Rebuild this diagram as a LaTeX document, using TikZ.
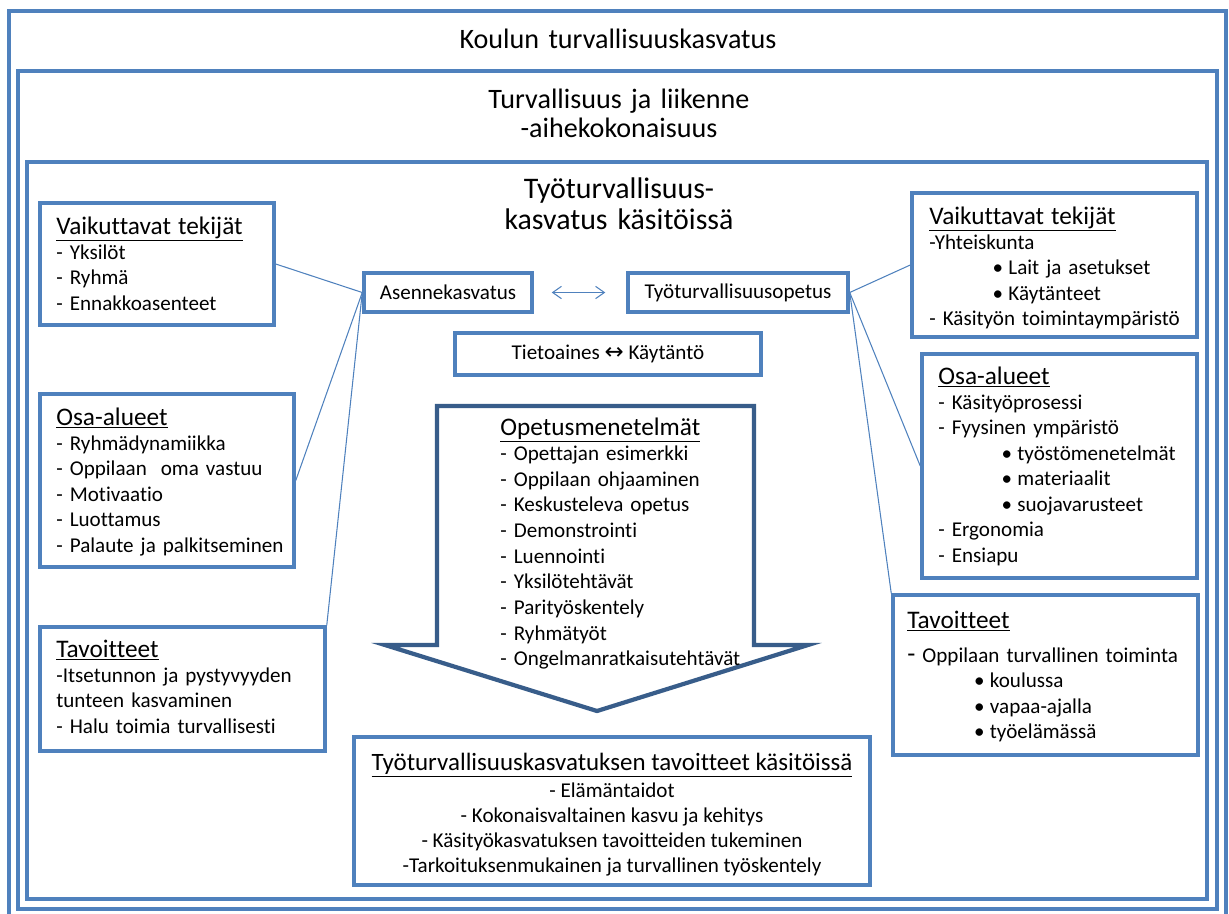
\documentclass[tikz,border=0pt]{standalone}
\usepackage{fontspec}
\setmainfont{Carlito}[Ligatures=NoCommon]
\newfontfamily\symfont{DejaVu Sans}
\usetikzlibrary{arrows.meta, fit}

\definecolor{boxblue}{RGB}{79,129,189}
\definecolor{arrowblue}{RGB}{56,93,138}

\tikzset{
  frame/.style={draw=boxblue, line width=2pt},
  box/.style={draw=boxblue, line width=2pt, inner sep=0pt},
  smallbox/.style={draw=boxblue, line width=2pt, inner sep=0pt, font=\fontsize{12}{14.5}\selectfont},
  link/.style={draw=boxblue, line width=0.6pt},
  title/.style={anchor=base, align=center, inner sep=0pt, text width=9cm, font=\fontsize{16}{17}\selectfont},
  txt/.style={anchor=base west, align=left, inner sep=0pt, text width=6.5cm, font=\fontsize{12}{14.5}\selectfont},
  goal/.style={anchor=base, inner sep=0pt, font=\fontsize{12}{14.5}\selectfont},
}
\newcommand{\boxhead}[1]{{\fontsize{14.4}{14.5}\selectfont\underline{#1}}}
\newcommand{\bul}[1]{\hspace*{#1}\makebox[9pt][l]{•}}

\begin{document}
\begin{tikzpicture}[x=0.02cm, y=-0.02cm]
\useasboundingbox (0,0) rectangle (1229,913);

% nested frames
\draw[frame] (9,11) rectangle (1226,930);
\draw[frame] (18,71) rectangle (1217,909);
\draw[frame] (27,162) rectangle (1207,899);

\node[title] (koulu) at (618,48) {Koulun turvallisuuskasvatus};
\node[title, font=\fontsize{16}{17}\selectfont] (liikenne) at (619,108) {Turvallisuus ja liikenne\\-aihekokonaisuus};
\node[title, font=\fontsize{17}{18.1}\selectfont] (kasitoissa) at (619,198) {Työturvallisuus-\\kasvatus käsitöissä};

% middle boxes
\node[smallbox, minimum width=3.36cm, minimum height=0.78cm] (asenne) at (448,292.5) {Asennekasvatus};
\node[smallbox, minimum width=4.4cm, minimum height=0.78cm] (opetus) at (738,292.5) {Työturvallisuusopetus};
\node[smallbox, minimum width=6.12cm, minimum height=0.84cm] (tieto) at (608,354) {Tietoaines {\symfont\fontsize{13}{14}\selectfont ↔} Käytäntö};
\draw[link, {Straight Barb[length=5pt,width=7pt]}-{Straight Barb[length=5pt,width=7pt]}, shorten <=0.36cm, shorten >=0.42cm] (asenne) -- (opetus);

% left side
\node[box, fit={(40,203) (274,325)}] (vtl) {};
\node[txt] (vtlt) at (56,234) {\boxhead{Vaikuttavat tekijät}\\- Yksilöt\\- Ryhmä\\- Ennakkoasenteet};
\node[box, fit={(40,394) (294,567)}] (osal) {};
\node[txt] (osalt) at (56,425) {\boxhead{Osa-alueet}\\- Ryhmädynamiikka\\- Oppilaan\ \ oma vastuu\\- Motivaatio\\- Luottamus\\- Palaute ja palkitseminen};
\node[box, fit={(40,627) (325,751)}] (tavl) {};
\node[txt] (tavlt) at (56,657) {\boxhead{Tavoitteet}\\-Itsetunnon ja pystyvyyden\\tunteen kasvaminen\\- Halu toimia turvallisesti};

% right side
\node[box, fit={(912,193) (1197,337)}] (vtr) {};
\node[txt] (vtrt) at (929,224) {\boxhead{Vaikuttavat tekijät}\\-Yhteiskunta\\\bul{36pt}Lait ja asetukset\\\bul{36pt}Käytänteet\\- Käsityön toimintaympäristö};
\node[box, fit={(922,354) (1197,578)}] (osar) {};
\node[txt] (osart) at (938,384) {\boxhead{Osa-alueet}\\- Käsityöprosessi\\- Fyysinen ympäristö\\\bul{36pt}työstömenetelmät\\\bul{36pt}materiaalit\\\bul{36pt}suojavarusteet\\- Ergonomia\\- Ensiapu};
\node[box, fit={(893,595) (1198,755)}] (tavr) {};
\node[txt] (tavrt) at (907,628) {\boxhead{Tavoitteet}\\[5pt]{\fontsize{15}{14.5}\selectfont -}\hspace{4pt}Oppilaan turvallinen toiminta\\\bul{38pt}koulussa\\\bul{38pt}vapaa-ajalla\\\bul{38pt}työelämässä};

% connectors
\draw[link] (asenne.west) -- (vtl.east);
\draw[link] (asenne.west) -- (osal.east);
\draw[link] (asenne.west) -- (tavl.north east);
\draw[link] (opetus.east) -- (vtr.west);
\draw[link] (opetus.east) -- (osar.west);
\draw[link] (opetus.east) -- (tavr.north west);

% block arrow with the methods
\draw[arrowblue, line width=2.4pt, fill=white, line join=miter]
  (437,406) -- (754,406) -- (754,645) -- (808,645) -- (597,711) -- (385,645) -- (437,645) -- cycle;
\node[txt, font=\fontsize{12}{14.6}\selectfont] (menetelmat) at (500,435) {\boxhead{Opetusmenetelmät}\\- Opettajan esimerkki\\- Oppilaan ohjaaminen\\- Keskusteleva opetus\\- Demonstrointi\\- Luennointi\\- Yksilötehtävät\\- Parityöskentely\\- Ryhmätyöt\\- Ongelmanratkaisutehtävät};

% goals at the bottom
\node[box, fit={(354,737) (870,885)}] (goals) {};
\node[goal, font=\fontsize{14.2}{14.5}\selectfont] (goalh) at (612,770) {\underline{Työturvallisuuskasvatuksen tavoitteet käsitöissä}};
\node[goal] (goal1) at (612,797) {- Elämäntaidot};
\node[goal] (goal2) at (612,822) {- Kokonaisvaltainen kasvu ja kehitys};
\node[goal] (goal3) at (612,847) {- Käsityökasvatuksen tavoitteiden tukeminen};
\node[goal] (goal4) at (612,872) {-Tarkoituksenmukainen ja turvallinen työskentely};

\end{tikzpicture}
\end{document}
